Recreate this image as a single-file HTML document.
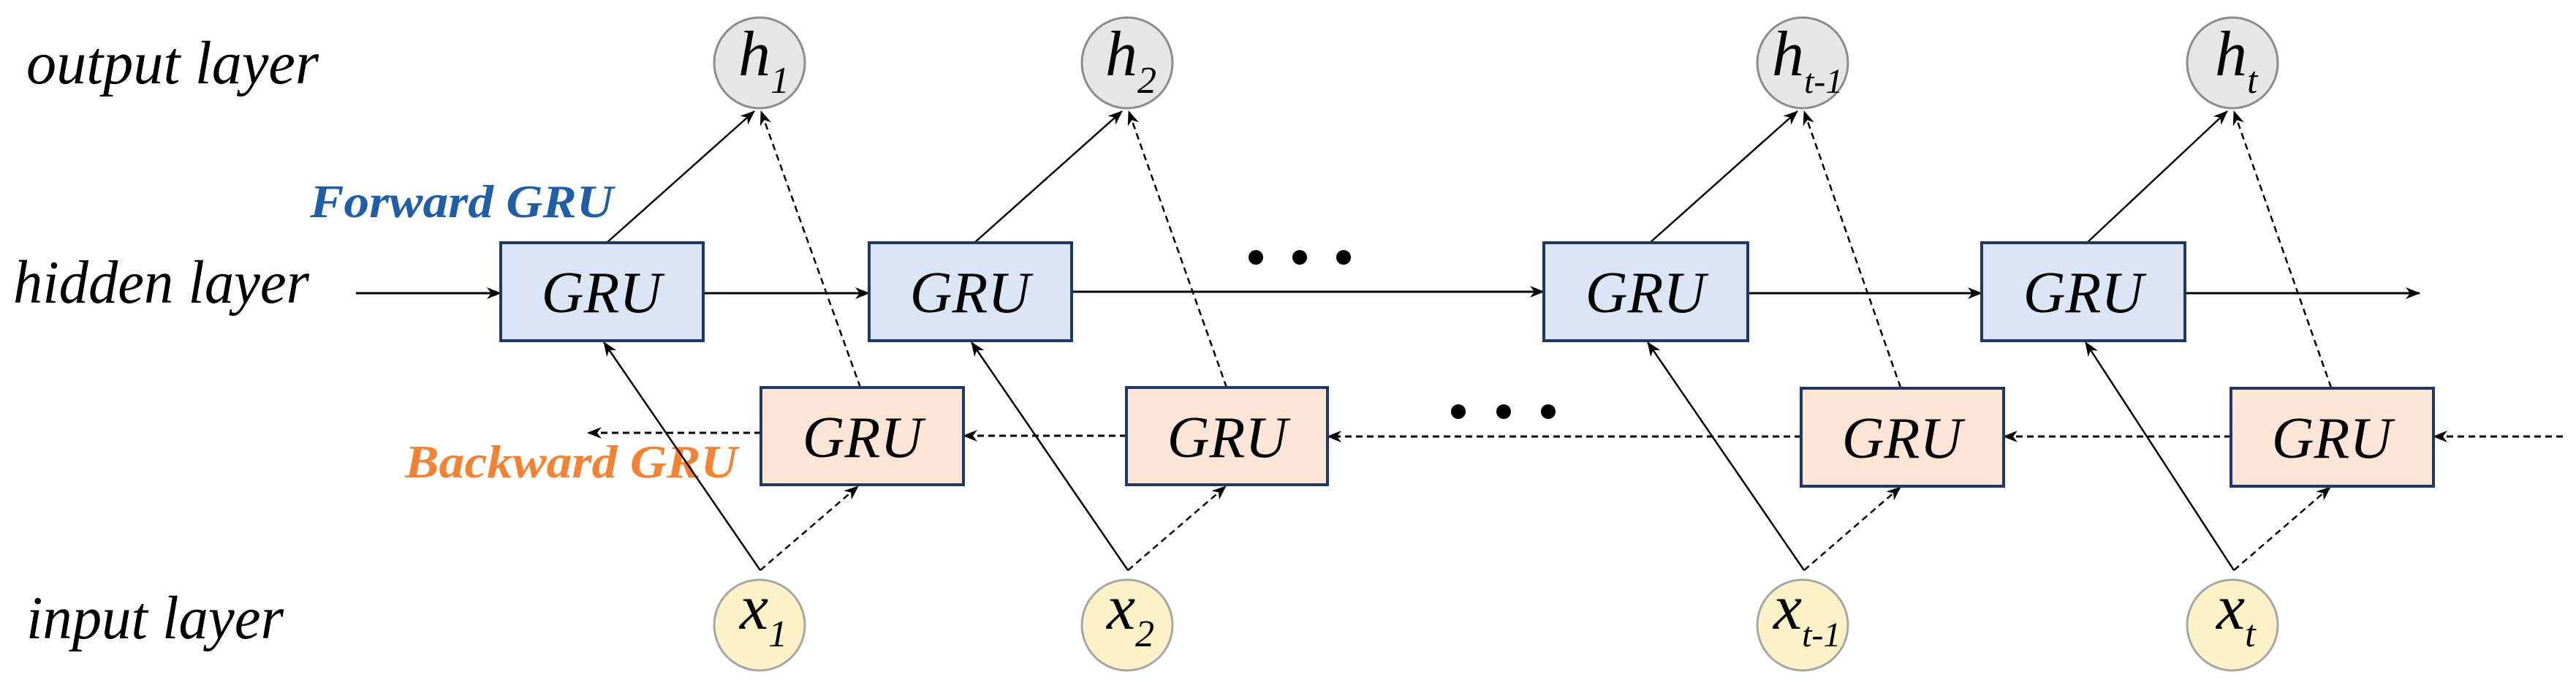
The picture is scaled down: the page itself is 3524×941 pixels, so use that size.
<!DOCTYPE html>
<html><head><meta charset="utf-8"><style>
html,body{margin:0;padding:0;background:#fff;}
svg{display:block;}
svg text{font-family:'Liberation Serif','Times New Roman','DejaVu Serif',serif !important;font-style:italic;}
</style></head><body>
<svg width="3524" height="941" viewBox="0 0 3524 941" xmlns="http://www.w3.org/2000/svg" font-family="Liberation Serif, Times New Roman, DejaVu Serif, serif" font-style="italic">
<defs>
<marker id="a" viewBox="0 0 20 20" refX="19" refY="10" markerWidth="20" markerHeight="20" markerUnits="userSpaceOnUse" orient="auto">
<path d="M0,2 L20,10 L0,18 L6,10 Z" fill="#000"/>
</marker>
</defs>
<g fill="#000" font-size="84">
<text x="36" y="114" textLength="400" lengthAdjust="spacingAndGlyphs">output layer</text>
<text x="18" y="414" textLength="405" lengthAdjust="spacingAndGlyphs">hidden layer</text>
<text x="36" y="873" textLength="352" lengthAdjust="spacingAndGlyphs">input layer</text>
</g>
<text x="424" y="297" font-size="64" font-weight="bold" fill="#1f5faa" textLength="415" lengthAdjust="spacingAndGlyphs">Forward GRU</text>
<text x="554" y="653" font-size="64" font-weight="bold" fill="#f58233" textLength="455" lengthAdjust="spacingAndGlyphs">Backward GRU</text>

<g stroke="#000" stroke-width="3" fill="none" marker-end="url(#a)">
<line x1="487" y1="401" x2="685" y2="401"/>
<line x1="962" y1="401" x2="1189" y2="401"/>
<line x1="1466" y1="399" x2="2112" y2="399"/>
<line x1="2391" y1="401" x2="2711" y2="401"/>
<line x1="2989" y1="401" x2="3310" y2="401"/>
</g>
<g stroke="#000" stroke-width="3" fill="none" stroke-dasharray="9,6" marker-end="url(#a)">
<line x1="1041" y1="592" x2="804" y2="592"/>
<line x1="1541" y1="596" x2="1318" y2="596"/>
<line x1="2464" y1="597" x2="1816" y2="597"/>
<line x1="3052" y1="597" x2="2741" y2="597"/>
<line x1="3506" y1="597" x2="3329" y2="597"/>
</g>

<g stroke="#000" stroke-width="2.5" fill="none">
<line x1="830" y1="332" x2="1032" y2="152" marker-end="url(#a)"/>
<line x1="1177" y1="530" x2="1041" y2="152" stroke-dasharray="9,6" marker-end="url(#a)"/>
<line x1="1040" y1="780" x2="826" y2="468" marker-end="url(#a)"/>
<line x1="1040" y1="780" x2="1174" y2="665" stroke-dasharray="9,6" marker-end="url(#a)"/>
<line x1="1333" y1="332" x2="1535" y2="152" marker-end="url(#a)"/>
<line x1="1678" y1="530" x2="1544" y2="152" stroke-dasharray="9,6" marker-end="url(#a)"/>
<line x1="1543" y1="780" x2="1329" y2="468" marker-end="url(#a)"/>
<line x1="1543" y1="780" x2="1677" y2="665" stroke-dasharray="9,6" marker-end="url(#a)"/>
<line x1="2257" y1="332" x2="2459" y2="152" marker-end="url(#a)"/>
<line x1="2600" y1="530" x2="2468" y2="152" stroke-dasharray="9,6" marker-end="url(#a)"/>
<line x1="2468" y1="780" x2="2254" y2="468" marker-end="url(#a)"/>
<line x1="2468" y1="780" x2="2600" y2="666" stroke-dasharray="9,6" marker-end="url(#a)"/>
<line x1="2855" y1="332" x2="3047" y2="152" marker-end="url(#a)"/>
<line x1="3189" y1="530" x2="3056" y2="152" stroke-dasharray="9,6" marker-end="url(#a)"/>
<line x1="3056" y1="780" x2="2853" y2="468" marker-end="url(#a)"/>
<line x1="3056" y1="780" x2="3188" y2="666" stroke-dasharray="9,6" marker-end="url(#a)"/>
</g>

<g fill="#dae6f5" stroke="#1f3864" stroke-width="4">
<rect x="685" y="332" width="277" height="134"/>
<rect x="1189" y="332" width="277" height="134"/>
<rect x="2112" y="332" width="279" height="134"/>
<rect x="2711" y="332" width="278" height="134"/>
</g>
<g fill="#fce4d6" stroke="#1f3864" stroke-width="4">
<rect x="1041" y="530" width="277" height="133"/>
<rect x="1541" y="530" width="275" height="133"/>
<rect x="2464" y="531" width="277" height="134"/>
<rect x="3052" y="531" width="277" height="134"/>
</g>
<g font-size="80" fill="#000" text-anchor="middle">
<text x="823" y="427">GRU</text>
<text x="1327" y="427">GRU</text>
<text x="2251" y="427">GRU</text>
<text x="2850" y="427">GRU</text>
<text x="1180" y="625">GRU</text>
<text x="1679" y="625">GRU</text>
<text x="2602" y="626">GRU</text>
<text x="3190" y="626">GRU</text>
</g>

<g fill="#000">
<circle cx="1718" cy="352" r="10"/><circle cx="1778" cy="352" r="10"/><circle cx="1838" cy="352" r="10"/>
<circle cx="1995" cy="563" r="10"/><circle cx="2057" cy="563" r="10"/><circle cx="2118" cy="563" r="10"/>
</g>

<g fill="#e6e6e6" stroke="#8c8c8c" stroke-width="3">
<circle cx="1039" cy="86" r="62"/>
<circle cx="1542" cy="86" r="62"/>
<circle cx="2466" cy="86" r="62"/>
<circle cx="3054" cy="86" r="62"/>
</g>
<g fill="#fdf1c7" stroke="#a6a6a6" stroke-width="3">
<circle cx="1039" cy="855" r="62"/>
<circle cx="1542" cy="855" r="62"/>
<circle cx="2466" cy="855" r="62"/>
<circle cx="3054" cy="855" r="62"/>
</g>
<g fill="#000">
<text x="1010" y="103" font-size="88">h<tspan font-size="52" dy="24">1</tspan></text>
<text x="1512" y="103" font-size="88">h<tspan font-size="52" dy="24">2</tspan></text>
<text x="2424" y="103" font-size="88">h<tspan font-size="48" dy="24">t-1</tspan></text>
<text x="3030" y="103" font-size="88">h<tspan font-size="52" dy="24">t</tspan></text>
<text x="1012" y="860" font-size="88">x<tspan font-size="52" dy="24">1</tspan></text>
<text x="1514" y="860" font-size="88">x<tspan font-size="52" dy="24">2</tspan></text>
<text x="2426" y="860" font-size="88">x<tspan font-size="48" dy="24">t-1</tspan></text>
<text x="3032" y="860" font-size="88">x<tspan font-size="52" dy="24">t</tspan></text>
</g>
</svg>
</body></html>
